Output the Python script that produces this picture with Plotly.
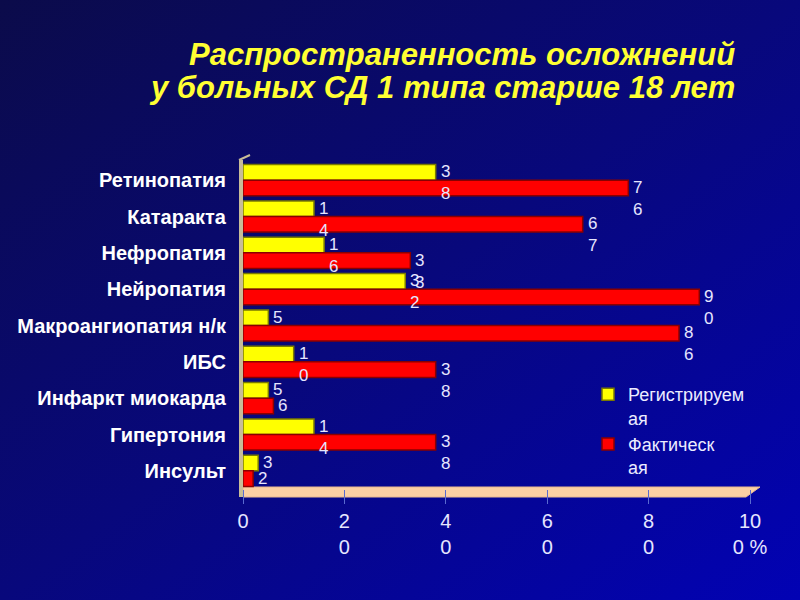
import base64
import plotly.graph_objects as go

categories = ["Ретинопатия", "Катаракта", "Нефропатия", "Нейропатия",
              "Макроангиопатия н/к", "ИБС", "Инфаркт миокарда", "Гипертония", "Инсульт"]
registered = [38, 14, 16, 32, 5, 10, 5, 14, 3]
actual = [76, 67, 33, 90, 86, 38, 6, 38, 2]
series_names = ["Регистрируем<br>ая", "Фактическ<br>ая"]
x_ticks = [0, 20, 40, 60, 80, 100]
x_ticktext = ["0", "2<br>0", "4<br>0", "6<br>0", "8<br>0", "10<br>0 %"]
title_lines = ["Распространенность осложнений", "у больных СД 1 типа старше 18 лет"]

W, H = 800, 600
ML, MR, MT, MB = 243, 50, 162, 111
PW, PH = W - ML - MR, H - MT - MB

def px_to_paper(px, py):
    return (px - ML) / PW, (H - MB - py) / PH

idx = list(range(len(categories)))
off = 0.215
bw = 0.43

fig = go.Figure()
fig.add_trace(go.Bar(
    x=registered, y=[i - off for i in idx], width=bw, orientation="h",
    name=series_names[0], marker=dict(color="#ffff00", line=dict(color="#7a7a00", width=1.5)),
))
fig.add_trace(go.Bar(
    x=actual, y=[i + off for i in idx], width=bw, orientation="h",
    name=series_names[1], marker=dict(color="#ff0000", line=dict(color="#8a0000", width=1.5)),
))

def split_digits(v):
    s = str(v)
    return s if len(s) == 1 else s[:-1] + "<br>" + s[-1]

annotations = []
for vals, sign in ((registered, -1), (actual, 1)):
    for i, v in zip(idx, vals):
        annotations.append(dict(
            x=v, y=i + sign * off, xref="x", yref="y", text=split_digits(v),
            showarrow=False, xanchor="left", yanchor="top", yshift=12, xshift=3,
            align="left", font=dict(family="Liberation Sans, Arial", size=17, color="#e6e6ff"),
        ))

# title (two lines, placed separately to keep the tight line spacing)
for line, py in zip(title_lines, (55, 88)):
    tx, ty = px_to_paper(737, py)
    annotations.append(dict(
        x=tx, y=ty, xref="paper", yref="paper", xanchor="right", yanchor="middle",
        text=line, showarrow=False,
        font=dict(family="Liberation Sans, Arial", size=31, color="#ffff33", weight="bold", style="italic"),
    ))

# background gradient image
svg = ('<svg xmlns="http://www.w3.org/2000/svg" width="800" height="600">'
       '<defs><linearGradient id="g" x1="0" y1="0" x2="1" y2="1">'
       '<stop offset="0" stop-color="#0b0b4a"/><stop offset="0.5" stop-color="#08087c"/>'
       '<stop offset="1" stop-color="#0202b4"/></linearGradient></defs>'
       '<rect width="800" height="600" fill="url(#g)"/></svg>')
src = "data:image/svg+xml;base64," + base64.b64encode(svg.encode()).decode()
ix, iy = px_to_paper(0, 0)
images = [dict(source=src, xref="paper", yref="paper", x=ix, y=iy, sizex=W / PW, sizey=H / PH,
               xanchor="left", yanchor="top", sizing="stretch", layer="below")]

# floor and left wall
fx0, fy0 = px_to_paper(243, 487)
fx1, fy1 = px_to_paper(760, 487)
fx2, fy2 = px_to_paper(746, 497)
fx3, fy3 = px_to_paper(243, 497)
wx0, wy0 = px_to_paper(239, 160)
wx1, wy1 = px_to_paper(243, 497)
nx, ny = px_to_paper(250, 155)
shapes = [
    dict(type="path", xref="paper", yref="paper", layer="below",
         path=f"M{fx0},{fy0} L{fx1},{fy1} L{fx2},{fy2} L{fx3},{fy3} Z",
         fillcolor="#fcd0a4", line=dict(color="#e8b890", width=1)),
    dict(type="rect", xref="paper", yref="paper", layer="below",
         x0=wx0, y0=wy1, x1=wx1, y1=wy0, fillcolor="#c8bc98", line=dict(width=0)),
    dict(type="line", xref="paper", yref="paper", layer="below",
         x0=wx0, y0=wy0, x1=nx, y1=ny, line=dict(color="#c8bc98", width=2)),
]

lx, ly = px_to_paper(588, 376)
fig.update_layout(
    width=W, height=H, margin=dict(l=ML, r=MR, t=MT, b=MB),
    paper_bgcolor="#0a0a70", plot_bgcolor="#00007c",
    barmode="overlay", showlegend=True,
    legend=dict(x=lx, y=ly, xanchor="left", yanchor="top", bgcolor="rgba(0,0,0,0)",
                traceorder="normal", valign="top", tracegroupgap=0, itemwidth=30,
                font=dict(family="Liberation Sans, Arial", size=18, color="#ececff")),
    xaxis=dict(range=[0, 100], tickvals=x_ticks, ticktext=x_ticktext, showgrid=False,
               zeroline=False, showline=False, ticks="outside", ticklen=14, tickcolor="#5a6ad0",
               tickfont=dict(family="Liberation Sans, Arial", size=20, color="#e6e6ff")),
    yaxis=dict(range=[len(categories) - 0.5, -0.5], tickvals=idx, ticktext=categories,
               showgrid=False, zeroline=False, showline=False, ticks="", ticklabelstandoff=16,
               tickfont=dict(family="Liberation Sans, Arial", size=20, color="#ffffff", weight="bold")),
    annotations=annotations, images=images, shapes=shapes,
)

fig.write_html("out.html")
